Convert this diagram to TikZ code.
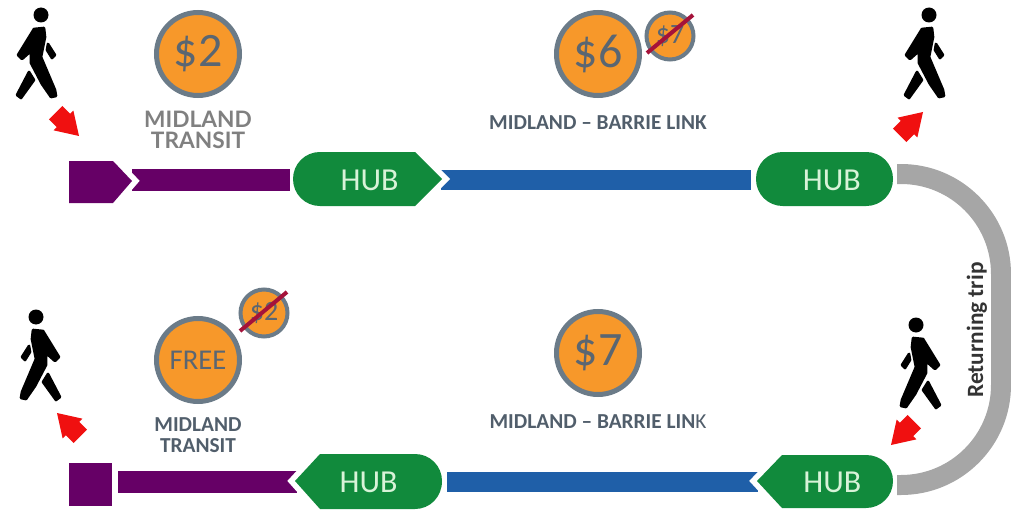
\documentclass[tikz,border=0pt]{standalone}
\usepackage{fontspec}
\setmainfont{Carlito}
\newfontfamily\labelfont{Lato}
\pgfdeclarelayer{bars}
\pgfsetlayers{bars,main}
\definecolor{fareorange}{HTML}{F7982A}
\definecolor{ringgrey}{HTML}{6B7B88}
\definecolor{faretext}{HTML}{5A6672}
\definecolor{labelslate}{HTML}{515E6B}
\definecolor{strikered}{HTML}{A5123A}
\definecolor{linepurple}{HTML}{660066}
\definecolor{lineblue}{HTML}{1F5FA8}
\definecolor{hubgreen}{HTML}{118A3C}
\definecolor{hubtext}{HTML}{D8F3D8}
\definecolor{tripgrey}{HTML}{A6A6A6}
\definecolor{arrowred}{HTML}{F01010}

\begin{document}
\begin{tikzpicture}
      [x=0.75pt,y=-0.75pt,%%%%%%%%%%%%%%%%%%%%%%%%%%%%%%
      bigfare/.style={circle,draw=ringgrey,fill=fareorange,line width=3.75pt,minimum size=62.25pt,inner sep=0pt,text=faretext,font=\fontsize{36}{38}\selectfont},
      oldfare/.style={circle,draw=ringgrey,fill=fareorange,line width=3pt,minimum size=35.25pt,inner sep=0pt,text=faretext,font=\fontsize{21}{23}\selectfont},
      strike/.style={draw=strikered,line width=3pt},
      place/.style={align=center,inner sep=0pt,text=labelslate,font=\fontsize{16}{15.75}\selectfont\bfseries},
      hubbox/.style={rectangle,minimum height=40pt,inner sep=0pt,text=hubtext,font=\fontsize{24}{26}\selectfont},
      hubfill/.style={fill=hubgreen},
      notch/.style={draw=white,line width=8.5pt,miter limit=10},
      purplebar/.style={draw=linepurple,line width=16pt},
      bluebar/.style={draw=lineblue,line width=15pt},
      tripbar/.style={draw=tripgrey,line width=15pt,rounded corners=75pt},
      walker/.pic={
        \fill[black] (0,0) circle[radius=7.5];
        \filldraw[black,line width=2pt,line join=round] (-7,14) -- (3,13) -- (4,22) -- (0,42) -- (14,75) -- (15,81) -- (10,82) -- (1,69) -- (-10,48) -- (-10,36) -- (-19,44) -- (-23,40) -- cycle;
        \filldraw[black,line width=2pt,line join=round] (-12,57) -- (-7,65) -- (-20,83) -- (-24,80) -- cycle;
        \filldraw[black,line width=2pt,line join=round] (7,29) -- (14,40) -- (11,43) -- (6,35) -- cycle;
      },
      redarrow/.pic={
        \fill[arrowred] (0,0) -- (-22,14) -- (-22,9.5) -- (-33,9.5) -- (-33,-9.5) -- (-22,-9.5) -- (-22,-14) -- cycle;
      },
      ]%%%%%%%%%%%%%%%%%%%%%%%%%%%%%%
      \useasboundingbox (0,0) rectangle (1011,510);

      % walkers and arrows
      \pic at (41,15) {walker};
      \pic at (929,15) {walker};
      \pic[xscale=-1] at (36,317) {walker};
      \pic[xscale=-1] at (916,325) {walker};
      \pic[rotate=-45] at (79,136) {redarrow};
      \pic[rotate=45] at (923,112) {redarrow};
      \pic[rotate=-135] at (891,445) {redarrow};
      \pic[rotate=135] at (57,413) {redarrow};

      % fares
      \node[bigfare] (fareTransit) at (198,54) {\$2};
      \node[bigfare] (fareLink) at (598,54) {\$6};
      \node[oldfare] (oldLink) at (670,36) {\$7};
      \draw[strike] ([shift={(-23,17)}]oldLink.center) -- ([shift={(23,-21)}]oldLink.center);
      \node[bigfare,font=\fontsize{21.5}{23}\selectfont] (fareFree) at (198,360) {FREE};
      \node[oldfare] (oldTransit) at (264,313) {\$2};
      \draw[strike] ([shift={(-24,18)}]oldTransit.center) -- ([shift={(23,-21)}]oldTransit.center);
      \node[bigfare] (fareBack) at (598,353) {\$7};

      % labels
      \node[place,text=gray,font=\fontsize{17}{15.75}\selectfont\labelfont\bfseries] (labelTop) at (198,129.5) {MIDLAND\\TRANSIT};
      \node[place] (labelLink) at (598,123) {MIDLAND – BARRIE LINK};
      \node[place] (labelBottom) at (198,435) {MIDLAND\\TRANSIT};
      \node[place] (labelBack) at (598,422) {MIDLAND – BARRIE LIN{\mdseries K}};

      % upper line
      \draw[notch] (113,161) -- (132,181) -- (113,203);
      \fill[linepurple] (69,161) -- (113,161) -- (132,181) -- (113,203) -- (69,203) -- cycle;
      \node[minimum width=47.25pt,inner sep=0pt] (stopStart) at (100.5,180) {};
      \draw[notch] (415,152) -- (442,179) -- (415,206);
      \fill[hubfill] (415,152) -- (442,179) -- (415,206) -- (320,206) .. controls (305,206) and (293,194) .. (293,179) .. controls (293,164) and (305,152) .. (320,152) -- cycle;
      \node[hubbox,minimum width=111.75pt] (hubA) at (367.5,180) {\hspace{3pt}HUB};
      \fill[hubfill,rounded corners=20pt] (756,152) rectangle (893,206);
      \node[hubbox,minimum width=102.75pt] (hubB) at (824.5,180) {\hspace{11pt}HUB};

      % lower line
      \node[rectangle,fill=linepurple,minimum size=32.25pt,inner sep=0pt] (stopEnd) at (90.5,484.5) {};
      \draw[notch] (320,454) -- (295,481) -- (320,509);
      \fill[hubfill] (320,454) -- (295,481) -- (320,509) -- (415,509) .. controls (430,509) and (442,497) .. (442,481) .. controls (442,466) and (430,454) .. (415,454) -- cycle;
      \node[hubbox,minimum width=110.25pt] (hubC) at (368.5,482) {HUB};
      \draw[notch] (782,455) -- (757,481) -- (782,508);
      \fill[hubfill] (782,455) -- (757,481) -- (782,508) -- (866,508) .. controls (881,508) and (893,496) .. (893,481) .. controls (893,466) and (881,455) .. (866,455) -- cycle;
      \node[hubbox,minimum width=102pt] (hubD) at (825,482) {\hspace{11pt}HUB};

      % bars
      \begin{pgfonlayer}{bars}
      \draw[purplebar,shorten >=2.25pt] (stopStart.east) -- (hubA.west);
      \draw[bluebar,shorten <=-0.75pt,shorten >=3.75pt] (hubA.east) -- (hubB.west);
      \draw[purplebar,shorten <=-1.5pt,shorten >=4.5pt] (hubC.west) -- (stopEnd.east |- hubC.west);
      \draw[bluebar,shorten <=3.75pt,shorten >=-0.75pt] (hubC.east) -- (hubD.west);
      \end{pgfonlayer}

      % returning trip
      \coordinate (tripStart) at (897,174);
      \coordinate (tripEnd) at (897,485);
      \draw[tripbar] (tripStart) -- (1001,174) -- (1001,485) -- (tripEnd);
      \node[rotate=90,inner sep=0pt,text=black!80,font=\fontsize{17.5}{19}\selectfont\bfseries] (tripLabel) at (977,330) {Returning trip};
    \end{tikzpicture}
\end{document}
